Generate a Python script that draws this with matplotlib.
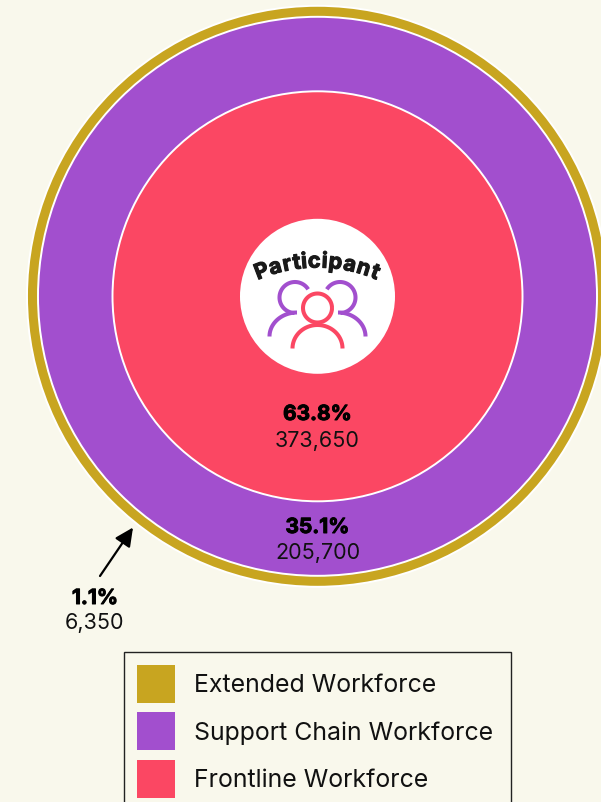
import numpy as np
import matplotlib
matplotlib.use("Agg")
import matplotlib.pyplot as plt
import matplotlib.patheffects as pe
from matplotlib.patches import Circle, Patch
from matplotlib.textpath import TextPath
from matplotlib.font_manager import FontProperties

categories = ["Extended Workforce", "Support Chain Workforce", "Frontline Workforce"]
shares = ["1.1%", "35.1%", "63.8%"]
counts = [6350, 205700, 373650]
colors = ["#C8A520", "#A24FCE", "#FB4763"]
radii = [290.5, 279.5, 205]
center_title = "Participant"

BG = "#F9F8EC"
FONT = "Inter"
plt.rcParams["font.family"] = [FONT, "DejaVu Sans"]

fig = plt.figure(figsize=(6.01, 8.03), dpi=100, facecolor=BG)
ax = fig.add_axes([0, 0, 1, 1])
ax.set_xlim(0, 601)
ax.set_ylim(803, 0)
ax.axis("off")

cx, cy = 317.5, 297.3
for r, c in zip(radii, colors):
    ax.add_patch(Circle((cx, cy), r, facecolor=c, edgecolor="white", lw=1.4))
ax.add_patch(Circle((cx, cy), 77.5, facecolor="white", edgecolor="none"))

heavy = [pe.withStroke(linewidth=0.7, foreground="black")]

# value labels
label_pos = [(95, 599, 623), (317.5, 528, 553), (317.5, 415, 441)]
for (x, y1, y2), s, n in zip(label_pos, shares, counts):
    ax.text(x, y1, s, ha="center", va="center", fontsize=15, fontweight="bold",
            color="black", path_effects=heavy)
    ax.text(x, y2, f"{n:,}", ha="center", va="center", fontsize=15.5, color="#111111")

ax.annotate("", xy=(133, 528.5), xytext=(100, 577),
            arrowprops=dict(arrowstyle="-|>,head_length=0.62,head_width=0.3", color="black", lw=1.6,
                            shrinkA=0, shrinkB=0, mutation_scale=18))

# curved centre title
fp = FontProperties(family=FONT, weight="bold", size=15.5)
R = 150
ccy = 268.5 + R
px = 100 / 72
adv = []
for i in range(len(center_title)):
    w_full = TextPath((0, 0), center_title[:i + 1], prop=fp).get_extents().x1
    adv.append(w_full * px)
adv = np.array(adv) * 1.08
total = adv[-1]
prev = np.r_[0, adv[:-1]]
mids = (prev + adv) / 2 - total / 2
for ch, m in zip(center_title, mids):
    th = m / R
    x = cx + R * np.sin(th)
    y = ccy - R * np.cos(th)
    ax.text(x, y, ch, ha="center", va="baseline", rotation=-np.degrees(th), rotation_mode="anchor",
            fontproperties=fp, color="#1A1A1A",
            path_effects=[pe.withStroke(linewidth=0.8, foreground="#1A1A1A")])

# people icon
def arc(x0, y0, rx, ry, a0, a1, color):
    t = np.radians(np.linspace(a0, a1, 80))
    ax.plot(x0 + rx * np.cos(t), y0 - ry * np.sin(t), color=color, lw=2.9, solid_capstyle="butt")

for sign in (-1, 1):
    hx = cx + sign * 22.5
    bx = cx + sign * 20.5
    if sign < 0:
        arc(hx, 298.5, 15.5, 15.5, 32, 268, colors[1])
        arc(bx, 337.5, 27.5, 24, 90, 180, colors[1])
    else:
        arc(hx, 298.5, 15.5, 15.5, -88, 148, colors[1])
        arc(bx, 337.5, 27.5, 24, 0, 90, colors[1])
arc(cx, 309, 14.5, 14.5, 0, 360, colors[2])
arc(cx, 349.5, 25, 23.5, 0, 180, colors[2])

handles = [Patch(facecolor=c, edgecolor="none", label=l) for c, l in zip(colors, categories)]
fs = 17.9
unit = fs * px
H = (38 * 0.72 / fs - 0.245) / 0.65
leg = ax.legend(handles=handles, loc="upper left", bbox_to_anchor=(123.5, 652.5, 387.5, -10),
                bbox_transform=ax.transData, mode="expand", fontsize=fs, frameon=True, fancybox=False,
                facecolor=BG, edgecolor="#222222", framealpha=1, borderaxespad=0,
                handlelength=38 / unit, handleheight=H, handletextpad=19 / unit,
                labelspacing=9.5 / unit, borderpad=13 / unit)
leg.get_frame().set_linewidth(1.0)
for t in leg.get_texts():
    t.set_color("#111111")

fig.savefig("out.png", dpi=100, facecolor=BG)
